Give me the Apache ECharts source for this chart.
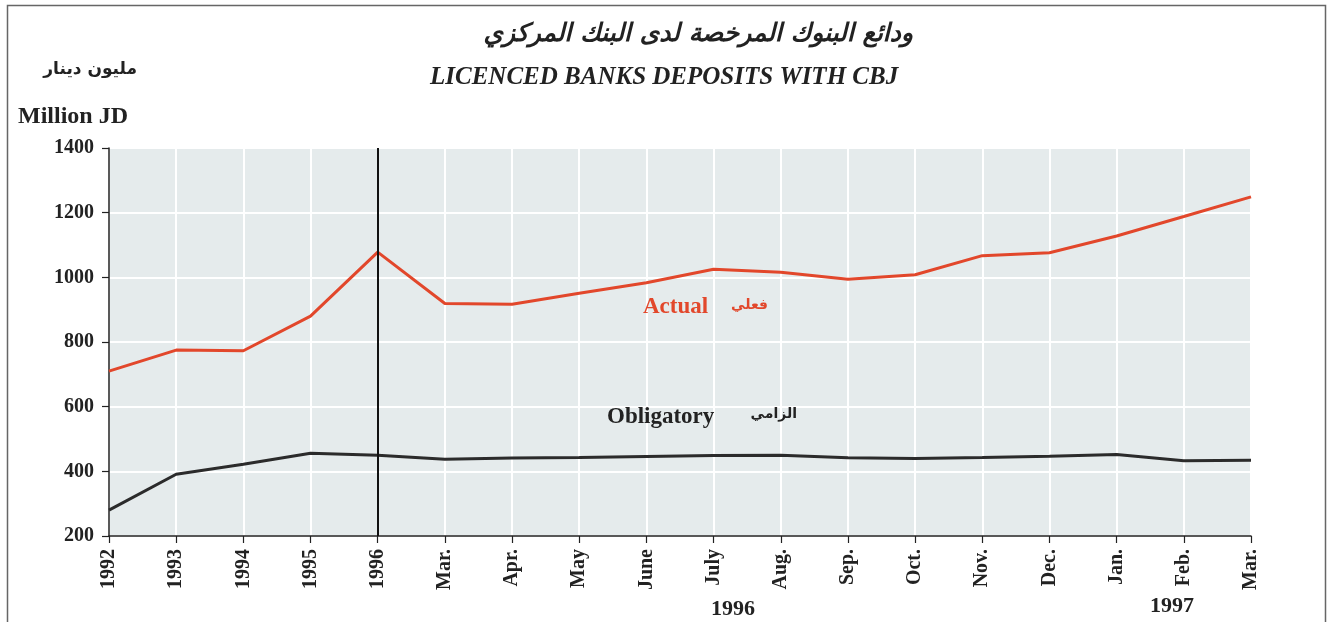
<!DOCTYPE html>
<html>
<head>
<meta charset="utf-8">
<script src="https://cdn.jsdelivr.net/npm/echarts@6/dist/echarts.min.js"></script>
<style>
html,body{margin:0;padding:0;background:#fff;}
#c{width:1333px;height:622px;}
</style>
</head>
<body>
<div id="c"></div>
<script>
const categories = ['1992','1993','1994','1995','1996','Mar.','Apr.','May','June','July','Aug.','Sep.','Oct.','Nov.','Dec.','Jan.','Feb.','Mar. '];
const actual =     [710, 775, 773, 880, 1078, 919, 917, 951, 983, 1025, 1016, 994, 1008, 1067, 1076, 1128, 1188, 1249];
const obligatory = [280, 391, 422, 456, 450, 437, 441, 443, 446, 449, 450, 442, 440, 443, 447, 452, 433, 434];
const yTicks = [200, 400, 600, 800, 1000, 1200, 1400];
const titleAr = 'ودائع البنوك المرخصة لدى البنك المركزي';
const titleEn = 'LICENCED BANKS DEPOSITS WITH CBJ';
const unitAr = 'مليون دينار';
const unitEn = 'Million JD';

const serif = '"Liberation Serif", "DejaVu Serif", serif';
const arab = '"DejaVu Sans", sans-serif';
const red = '#e2472b';
const dark = '#2b2b2b';

function txt(x, y, text, font, fill, align) {
  return {type: 'text', x: x, y: y, silent: true, z: 10,
    style: {text: text, font: font, fill: fill, align: align || 'left', verticalAlign: 'middle'}};
}

const chart = echarts.init(document.getElementById('c'), null, {renderer: 'canvas'});
chart.setOption({
  animation: false,
  backgroundColor: '#ffffff',
  grid: {left: 109, right: 82, top: 148, bottom: 86, show: true, backgroundColor: '#e5ebec', borderWidth: 0},
  xAxis: {
    type: 'category',
    data: categories,
    boundaryGap: false,
    axisLine: {lineStyle: {color: '#222', width: 1.5}},
    axisTick: {show: true, inside: false, length: 7, lineStyle: {color: '#222', width: 1.2}},
    axisLabel: {rotate: 90, margin: 13, interval: 0, color: '#222', fontFamily: serif, fontWeight: 'bold', fontSize: 20,
      formatter: v => v.trim()},
    splitLine: {show: true, interval: 0, lineStyle: {color: '#ffffff', width: 2}}
  },
  yAxis: {
    type: 'value',
    min: yTicks[0], max: yTicks[yTicks.length - 1], interval: 200,
    axisLine: {show: true, lineStyle: {color: '#222', width: 1.5}},
    axisTick: {show: true, length: 7, lineStyle: {color: '#222', width: 1.2}},
    axisLabel: {margin: 15, color: '#222', fontFamily: serif, fontWeight: 'bold', fontSize: 20, formatter: v => String(v)},
    splitLine: {show: true, lineStyle: {color: '#ffffff', width: 2}}
  },
  series: [
    {
      name: 'Actual', type: 'line', data: actual, symbol: 'none',
      lineStyle: {color: red, width: 3}, z: 3
    },
    {
      name: 'Obligatory', type: 'line', data: obligatory, symbol: 'none',
      lineStyle: {color: dark, width: 3}, z: 3,
      markLine: {
        silent: true, symbol: 'none', label: {show: false},
        lineStyle: {color: '#111', width: 2, type: 'solid'},
        data: [[{coord: ['1996', 200]}, {coord: ['1996', 1400]}]]
      }
    }
  ],
  graphic: [
    {type: 'rect', shape: {x: 7.5, y: 5.5, width: 1318, height: 620}, style: {fill: 'none', stroke: '#666', lineWidth: 1.5}, silent: true},
    txt(913, 34, titleAr, 'italic bold 25px ' + arab, '#222', 'right'),
    txt(430, 78, titleEn, 'italic bold 25px ' + serif, '#222', 'left'),
    txt(137, 70, unitAr, 'bold 17px ' + arab, '#222', 'right'),
    txt(18, 117, unitEn, 'bold 24px ' + serif, '#222', 'left'),
    txt(643, 307, 'Actual', 'bold 23px ' + serif, red, 'left'),
    txt(768, 305, 'فعلي', 'bold 14px ' + arab, red, 'right'),
    txt(607, 417, 'Obligatory', 'bold 23px ' + serif, '#222', 'left'),
    txt(797, 414, 'الزامي', 'bold 14px ' + arab, '#222', 'right'),
    txt(711, 609, '1996', 'bold 22px ' + serif, '#222', 'left'),
    txt(1150, 606, '1997', 'bold 22px ' + serif, '#222', 'left')
  ]
});
</script>
</body>
</html>
